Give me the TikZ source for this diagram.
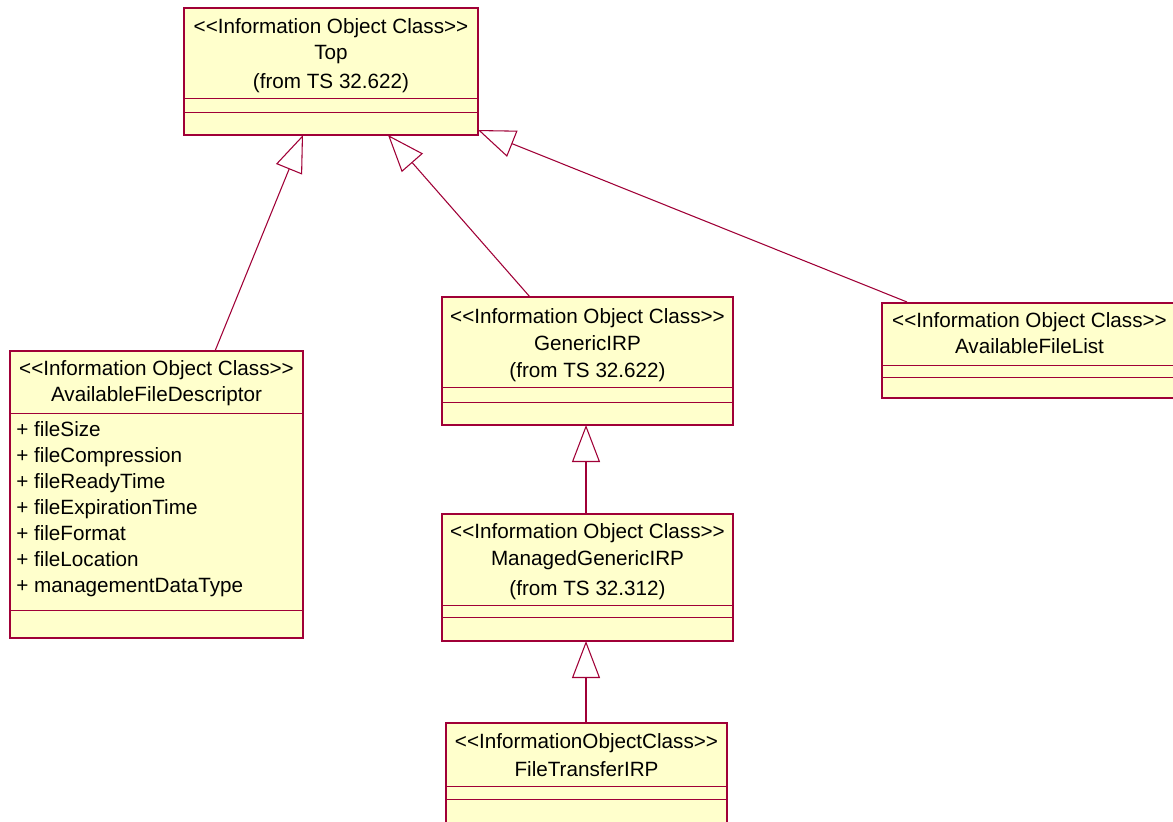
\documentclass[tikz,border=0pt]{standalone}
\usepackage{fontspec}
\setmainfont{Liberation Sans}[Ligatures=TeXOff]
\usetikzlibrary{arrows.meta}
\definecolor{umlred}{RGB}{160,0,55}
\definecolor{umlfill}{RGB}{255,255,204}
\tikzset{
  classbox/.style={draw=umlred, fill=umlfill, line width=1.1pt, rectangle, inner sep=0pt, outer sep=0pt, anchor=north west},
  divider/.style={draw=umlred, line width=0.7pt},
  lbl/.style={inner sep=0pt, anchor=base, font=\fontsize{15.5pt}{18pt}\selectfont},
  attr/.style={inner sep=0pt, anchor=base west, font=\fontsize{15.5pt}{18pt}\selectfont},
  inherit/.style={draw=umlred, line width=0.8pt, -{Triangle[open, fill=white, length=27.75pt, width=21pt]}}
}
\begin{document}
\begin{tikzpicture}[x=0.75pt, y=-0.75pt]
\useasboundingbox (0,0) rectangle (1173,821);
\clip (0,0) rectangle (1173,821);
\fill[white] (0,0) rectangle (1173,821);

% Top
\node[classbox, minimum width=220.5pt, minimum height=95.25pt] (top) at (184,8) {};
\draw[divider] (184,98) -- (478,98);
\draw[divider] (184,112) -- (478,112);
\node[lbl] (topS) at (331,33) {<<Information Object Class>>};
\node[lbl] (topN) at (331,59) {Top};
\node[lbl] (topF) at (331,88) {(from TS 32.622)};

% AvailableFileDescriptor
\node[classbox, minimum width=219.75pt, minimum height=215.25pt] (desc) at (10,351) {};
\draw[divider] (10,413) -- (303,413);
\draw[divider] (10,610) -- (303,610);
\node[lbl] (descS) at (156.5,375) {<<Information Object Class>>};
\node[lbl] (descN) at (156.5,401) {AvailableFileDescriptor};
\node[attr] (a1) at (16,436) {+ fileSize};
\node[attr] (a2) at (16,462) {+ fileCompression};
\node[attr] (a3) at (16,488) {+ fileReadyTime};
\node[attr] (a4) at (16,514) {+ fileExpirationTime};
\node[attr] (a5) at (16,540) {+ fileFormat};
\node[attr] (a6) at (16,566) {+ fileLocation};
\node[attr] (a7) at (16,592) {+ managementDataType};

% GenericIRP
\node[classbox, minimum width=218.25pt, minimum height=96pt] (gen) at (442,297) {};
\draw[divider] (442,387) -- (733,387);
\draw[divider] (442,402) -- (733,402);
\node[lbl] (genS) at (587.5,323) {<<Information Object Class>>};
\node[lbl] (genN) at (587.5,350) {GenericIRP};
\node[lbl] (genF) at (587.5,377) {(from TS 32.622)};

% AvailableFileList
\node[classbox, minimum width=221.25pt, minimum height=71.25pt] (list) at (882,303) {};
\draw[divider] (882,365) -- (1177,365);
\draw[divider] (882,377) -- (1177,377);
\node[lbl] (listS) at (1029.5,327) {<<Information Object Class>>};
\node[lbl] (listN) at (1029.5,353) {AvailableFileList};

% ManagedGenericIRP
\node[classbox, minimum width=218.25pt, minimum height=95.25pt] (man) at (442,514) {};
\draw[divider] (442,605) -- (733,605);
\draw[divider] (442,617) -- (733,617);
\node[lbl] (manS) at (587.5,538) {<<Information Object Class>>};
\node[lbl] (manN) at (587.5,565) {ManagedGenericIRP};
\node[lbl] (manF) at (587.5,595) {(from TS 32.312)};

% FileTransferIRP
\node[classbox, minimum width=210.75pt, minimum height=80pt] (ft) at (446,723) {};
\draw[divider] (446,786) -- (727,786);
\draw[divider] (446,799) -- (727,799);
\node[lbl] (ftS) at (586.5,748) {<<InformationObjectClass>>};
\node[lbl] (ftN) at (586.5,776) {FileTransferIRP};

% connection points
\coordinate (descUp) at (215,351);
\coordinate (topA) at (303,135);
\coordinate (genUp) at (530,297);
\coordinate (topB) at (388,135);
\coordinate (listUp) at (907,302);
\coordinate (topC) at (478,130);
\coordinate (manUp) at (586,514);
\coordinate (genDown) at (586,425);
\coordinate (ftUp) at (586,723);
\coordinate (manDown) at (586,641);

\draw[inherit] (descUp) -- (topA);
\draw[inherit] (genUp) -- (topB);
\draw[inherit] (listUp) -- (topC);
\draw[inherit] (manUp) -- (genDown);
\draw[inherit] (ftUp) -- (manDown);
\end{tikzpicture}
\end{document}
